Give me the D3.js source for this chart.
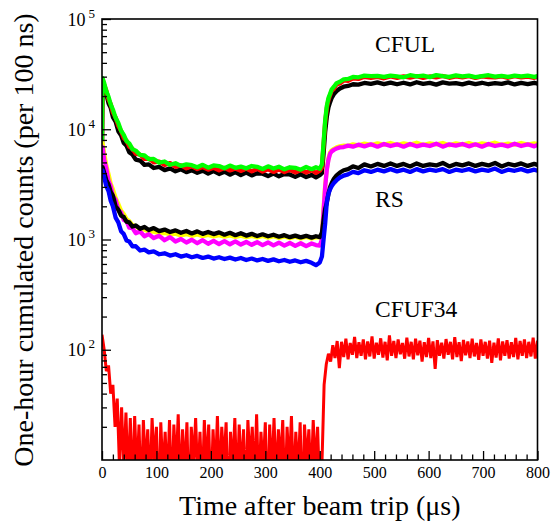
<!DOCTYPE html>
<html>
<head>
<meta charset="utf-8">
<script src="https://cdn.jsdelivr.net/npm/d3@7"></script>
<style>
  body { margin: 0; background: #fff; }
  text { font-family: "Liberation Serif", "Times New Roman", serif; fill: #000; }
</style>
</head>
<body>
<div id="chart"></div>
<script>
// Sample times (µs) shared by the CFUL and RS traces
const time = [0, 1, 4, 8, 12, 16, 20, 25, 30, 35, 40, 45, 50, 56, 62, 70, 78, 86, 95,
  105, 115, 125, 135, 145, 155, 165, 175, 185, 195, 205, 215, 225, 235, 245, 255, 265, 275, 285, 295,
  305, 315, 325, 335, 345, 355, 365, 375, 385, 393, 400,
  404, 407, 410, 413, 416, 419, 422, 426, 431, 437, 444, 452, 461, 471, 482, 494,
  506, 518, 530, 542, 554, 566, 578, 590, 602, 614, 626, 638, 650, 662, 674, 686, 698, 710,
  722, 734, 746, 758, 770, 782, 794, 800];

// CFUL group
const cfulGreen = [7700, 29000, 26300, 22100, 19700, 16800, 15100, 12700, 11400, 9700,
  8900, 7800, 7450, 6600, 6400, 5850, 5780, 5350, 5380, 4980,
  5100, 4760, 4920, 4650, 4800, 4720, 4520, 4760, 4480, 4700,
  4640, 4430, 4680, 4470, 4590, 4420, 4640, 4560, 4360, 4610,
  4400, 4570, 4330, 4520, 4470, 4300, 4550, 4340, 4520, 4380,
  4800, 7500, 12100, 16300, 19200, 21000, 23000, 24300, 26200, 27000,
  28400, 28600, 29800, 29600, 30600, 30300, 30500, 29800, 30700, 30100,
  29600, 30900, 30200, 30600, 29700, 31000, 30300, 29900, 30800, 30100,
  30600, 29700, 30400, 30900, 30000, 30500, 29800, 30700, 30100, 30600,
  29900, 30300];
const cfulRed = [7500, 28500, 25200, 22300, 18600, 16900, 14200, 12800, 10700, 9700,
  8300, 7900, 6950, 6650, 6000, 5880, 5380, 5420, 5020, 5080,
  4740, 4930, 4560, 4700, 4420, 4610, 4350, 4540, 4300, 4480,
  4240, 4460, 4230, 4410, 4190, 4400, 4150, 4380, 4140, 4340,
  4100, 4310, 4090, 4290, 4060, 4270, 4050, 4250, 4020, 4210,
  4500, 7200, 11600, 15600, 18400, 20300, 22400, 23200, 25500, 26000,
  27700, 27400, 29000, 28600, 29900, 29300, 29800, 29000, 30100, 29300,
  30200, 29400, 30300, 29200, 30100, 29500, 30400, 29300, 30100, 29600,
  30300, 29200, 30200, 29700, 29500, 30200, 29300, 30300, 29600, 30000,
  29300, 29900];
const cfulBlack = [7000, 27500, 24000, 20900, 17200, 15600, 12900, 11700, 9600, 8800,
  7500, 7100, 6200, 5900, 5300, 5200, 4750, 4800, 4450, 4560,
  4260, 4420, 4150, 4330, 4080, 4250, 4030, 4210, 3960, 4170,
  3930, 4120, 3870, 4080, 3840, 4040, 3810, 3990, 3950, 3760,
  3960, 3740, 3920, 3890, 3700, 3910, 3690, 3850, 3660, 3830,
  4000, 6000, 9500, 13000, 15800, 17600, 19300, 20800, 22200, 23400,
  24300, 24700, 25600, 25400, 26300, 25800, 26600, 25700, 26500, 25600,
  26400, 25500, 26700, 25800, 26300, 25400, 26600, 25900, 26200, 25500,
  26500, 25700, 26400, 25600, 26200, 25800, 26600, 25500, 26300, 25700,
  26400, 25900];

// RS group
const rsYellow = [7000, 7500, 6000, 4650, 3900, 3200, 2850, 2380, 2100, 1830,
  1700, 1530, 1470, 1350, 1320, 1240, 1230, 1180, 1180, 1140,
  1150, 1110, 1130, 1090, 1120, 1080, 1110, 1070, 1100, 1065,
  1095, 1060, 1090, 1055, 1085, 1050, 1080, 1045, 1075, 1040,
  1070, 1035, 1065, 1030, 1060, 1025, 1055, 1020, 1050, 1045,
  1100, 1900, 3100, 4400, 5450, 6150, 6450, 6650, 6850, 7000,
  7100, 7050, 7300, 7150, 7400, 7200, 7450, 7250, 7500, 7200,
  7450, 7250, 7550, 7200, 7450, 7300, 7500, 7150, 7450, 7250,
  7500, 7200, 7450, 7300, 7550, 7200, 7400, 7250, 7500, 7250,
  7450, 7350];
const rsMagenta = [6500, 6900, 5300, 4400, 3400, 3050, 2480, 2280, 1850, 1760,
  1500, 1470, 1280, 1270, 1140, 1180, 1070, 1120, 1030, 1080,
  985, 1050, 960, 1010, 940, 995, 925, 985, 915, 970,
  910, 965, 905, 960, 900, 950, 895, 945, 890, 940,
  885, 935, 880, 930, 875, 925, 870, 920, 890, 880,
  1000, 1800, 3000, 4300, 5300, 6000, 6300, 6500, 6700, 6850,
  6900, 7100, 6950, 7250, 7000, 7300, 6950, 7350, 7050, 7300,
  6950, 7350, 7000, 7250, 7050, 7400, 6950, 7300, 7100, 7350,
  7000, 7300, 6950, 7350, 7050, 7250, 7000, 7400, 7050, 7300,
  7000, 7200];
const rsBlack = [4300, 4540, 4050, 3450, 3150, 2700, 2500, 2000, 1860, 1650,
  1600, 1450, 1430, 1310, 1340, 1250, 1300, 1220, 1270, 1190,
  1230, 1170, 1210, 1150, 1195, 1135, 1185, 1125, 1170, 1120,
  1160, 1105, 1150, 1095, 1140, 1085, 1125, 1075, 1115, 1070,
  1105, 1060, 1095, 1050, 1085, 1045, 1080, 1040, 1070, 1050,
  1150, 1500, 1900, 2150, 2600, 2990, 3250, 3550, 3820, 4050,
  4250, 4350, 4600, 4450, 4800, 4600, 4850, 4650, 4900, 4650,
  4850, 4600, 4900, 4650, 4800, 4700, 4950, 4600, 4850, 4700,
  4900, 4650, 4850, 4700, 4950, 4600, 4850, 4700, 4900, 4650,
  4850, 4750];
const rsBlue = [4000, 4240, 3650, 3050, 2750, 2250, 2000, 1580, 1430, 1190,
  1120, 980, 960, 865, 870, 795, 810, 765, 780, 735,
  750, 715, 735, 700, 720, 690, 710, 680, 700, 672,
  690, 665, 685, 658, 680, 652, 672, 646, 666, 640,
  660, 635, 652, 628, 646, 622, 640, 615, 585, 620,
  700, 1000, 1400, 2200, 2600, 2850, 3050, 3250, 3450, 3650,
  3800, 3900, 4100, 4000, 4250, 4100, 4300, 4150, 4350, 4150,
  4300, 4100, 4350, 4150, 4300, 4200, 4350, 4100, 4300, 4200,
  4350, 4150, 4300, 4200, 4400, 4100, 4300, 4200, 4350, 4150,
  4300, 4200];

// CFUF34, one value every 4 µs from 0 to 800 (low/high of the noise band)
const cfuf34Step = 4;
const cfuf34 = [137, 100, 64, 72, 40, 48, 20, 36, 9, 30,
  8, 27, 6, 24, 5, 25, 7, 21, 4, 23,
  8, 19, 5, 24, 9, 20, 3, 22, 7, 18,
  6, 23, 4, 21, 8, 26, 5, 19, 7, 22,
  3, 20, 9, 24, 6, 18, 5, 23, 8, 21,
  4, 19, 7, 25, 6, 20, 9, 22, 3, 18,
  8, 24, 5, 21, 7, 19, 4, 23, 9, 20,
  6, 26, 5, 18, 8, 22, 3, 21, 7, 24,
  6, 19, 9, 23, 4, 20, 8, 25, 5, 18,
  7, 22, 3, 21, 9, 19, 6, 23, 8, 20,
  5,
  9, 48, 74, 92, 78, 110, 84, 120, 68, 118,
  86, 126, 82, 115, 90, 131, 84, 117, 88, 124,
  82, 119, 87, 132, 83, 116, 90, 127, 85, 118,
  80, 135, 88, 120, 84, 124, 91, 115, 83, 129,
  87, 118, 82, 126, 89, 121, 78, 117, 86, 128,
  84, 119, 67, 122, 88, 116, 83, 125, 90, 118,
  82, 130, 86, 117, 79, 123, 89, 119, 84, 126,
  87, 115, 81, 124, 88, 118, 83, 121, 76, 116,
  85, 127, 80, 119, 88, 122, 83, 117, 86, 128,
  82, 120, 88, 124, 84, 118, 87, 129, 83, 121];

const xTicks = [0, 100, 200, 300, 400, 500, 600, 700, 800];
const yDecades = [100, 1000, 10000, 100000];

// Set dimensions and margins
const W = 552, H = 524;
const margin = { top: 19, right: 14.5, bottom: 64, left: 102 };
const width = W - margin.left - margin.right;
const height = H - margin.top - margin.bottom;

const svg = d3.select("#chart")
  .append("svg")
  .attr("width", W)
  .attr("height", H);

const g = svg.append("g")
  .attr("transform", `translate(${margin.left},${margin.top})`);

const x = d3.scaleLinear().domain([0, 800]).range([0, width]);
const y = d3.scaleLog().domain([10, 1e5]).range([height, 0]);

svg.append("defs").append("clipPath").attr("id", "plot")
  .append("rect").attr("width", width).attr("height", height);

const plot = g.append("g").attr("clip-path", "url(#plot)");
const line = d3.line().x(d => x(d[0])).y(d => y(d[1]));

// Traces, back to front
const traces = [
  { values: cfulBlack, color: "#000000" },
  { values: cfulRed, color: "#ff0000" },
  { values: cfulGreen, color: "#00ff00" },
  { values: rsYellow, color: "#ffff00" },
  { values: rsMagenta, color: "#ff00ff" },
  { values: rsBlack, color: "#000000" },
  { values: rsBlue, color: "#0000ff" }
];

traces.forEach(s => {
  plot.append("path")
    .datum(time.map((t, i) => [t, s.values[i]]))
    .attr("fill", "none")
    .attr("stroke", s.color)
    .attr("stroke-width", 4.3)
    .attr("stroke-linejoin", "round")
    .attr("d", line);
});

plot.append("path")
  .datum(cfuf34.map((v, i) => [i * cfuf34Step, v]))
  .attr("fill", "none")
  .attr("stroke", "#ff0000")
  .attr("stroke-width", 3)
  .attr("d", line);

// X axis ticks (inward)
const xMinor = d3.range(0, 801, 20).filter(v => v % 100 !== 0);
g.append("g")
  .attr("transform", `translate(0,${height})`)
  .call(d3.axisBottom(x).tickValues(xMinor).tickSizeInner(-5.5).tickSizeOuter(0).tickFormat(""))
  .call(a => a.select(".domain").remove());

g.append("g")
  .attr("transform", `translate(0,${height})`)
  .call(d3.axisBottom(x).tickValues(xTicks).tickSizeInner(-9).tickSizeOuter(0).tickFormat(d3.format("d")))
  .call(a => a.select(".domain").remove())
  .call(a => a.selectAll("text").attr("y", 18).attr("dy", null)
    .style("font-size", "16px").style("font-family", "'Liberation Serif', serif"));

// Y axis ticks (inward)
const yMinor = [];
[10, 100, 1000, 10000].forEach(d => { for (let k = 2; k <= 9; k++) yMinor.push(d * k); });
g.append("g")
  .call(d3.axisLeft(y).tickValues(yMinor).tickSizeInner(-5).tickSizeOuter(0).tickFormat(""))
  .call(a => a.select(".domain").remove());
g.append("g")
  .call(d3.axisLeft(y).tickValues(yDecades).tickSizeInner(-9).tickSizeOuter(0).tickFormat(""))
  .call(a => a.select(".domain").remove());

g.selectAll("g.tick line").attr("stroke", "#000").attr("stroke-width", 1.3);

// Y tick labels as 10 with superscript
yDecades.forEach(v => {
  g.append("text")
    .attr("x", -16.5).attr("y", y(v) + 6.5)
    .attr("text-anchor", "end")
    .style("font-size", "18px")
    .text("10");
  g.append("text")
    .attr("x", -13.5).attr("y", y(v) - 1.5)
    .attr("text-anchor", "start")
    .style("font-size", "13px")
    .text(Math.round(Math.log10(v)));
});

// Frame
g.append("rect")
  .attr("width", width)
  .attr("height", height)
  .attr("fill", "none")
  .attr("stroke", "#000")
  .attr("stroke-width", 1.6);

// Series labels
g.append("text").attr("x", 273).attr("y", 33.3).style("font-size", "23.5px").text("CFUL");
g.append("text").attr("x", 273).attr("y", 188).style("font-size", "23.5px").text("RS");
g.append("text").attr("x", 273).attr("y", 297.7).style("font-size", "23.5px").text("CFUF34");

// Axis titles
svg.append("text")
  .attr("x", margin.left + width / 2)
  .attr("y", 515)
  .attr("text-anchor", "middle")
  .style("font-size", "28px")
  .text("Time after beam trip (μs)");

svg.append("text")
  .attr("transform", `translate(33,240) rotate(-90)`)
  .attr("text-anchor", "middle")
  .style("font-size", "28px")
  .text("One-hour cumulated counts (per 100 ns)");
</script>
</body>
</html>
